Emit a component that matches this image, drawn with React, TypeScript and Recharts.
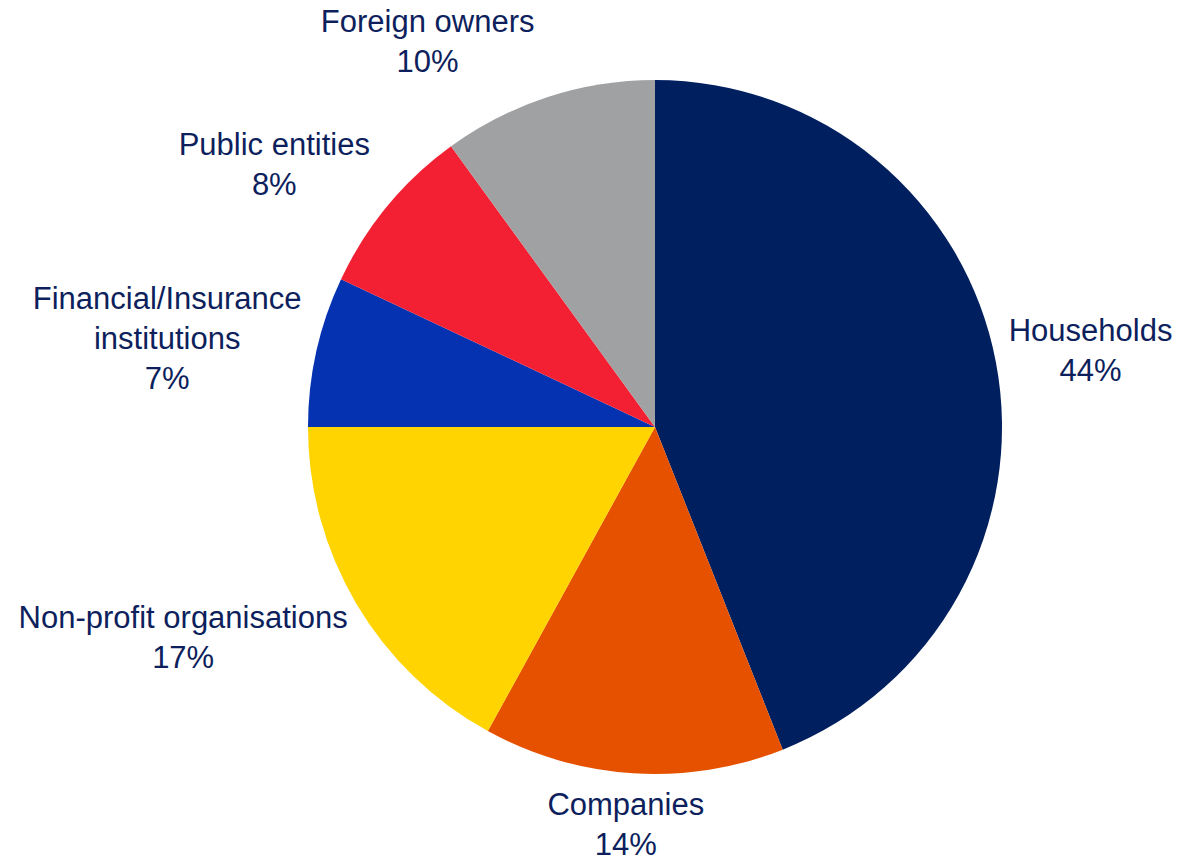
import React from "react";
import { PieChart, Pie, Cell } from "recharts";

const categories = [
  "Households",
  "Companies",
  "Non-profit organisations",
  "Financial/Insurance\ninstitutions",
  "Public entities",
  "Foreign owners",
];
const shares = [44, 14, 17, 7, 8, 10];
const sliceColors = ["#001f5f", "#e65100", "#ffd400", "#0432b0", "#f32033", "#a0a1a3"];

const data = categories.map((name, i) => ({ name, value: shares[i] }));

const TEXT_COLOR = "#0d1f5c";
const FONT = "'Liberation Sans', Arial, sans-serif";
const FONT_SIZE = 31;
const LINE_H = 40;

// small hand tweaks so labels sit where Excel put them
const labelNudge: Record<string, [number, number]> = {
  Households: [3, 0],
  Companies: [8, 1],
  "Foreign owners": [-18, -6],
  "Public entities": [-10, 0],
  "Financial/Insurance\ninstitutions": [-5, 7],
};

let ctx: CanvasRenderingContext2D | null = null;
function textWidth(s: string) {
  if (!ctx) ctx = document.createElement("canvas").getContext("2d");
  if (!ctx) return s.length * 15;
  ctx.font = `${FONT_SIZE}px ${FONT}`;
  return ctx.measureText(s).width;
}

const clamp = (v: number) => Math.max(-1, Math.min(1, v));

function renderLabel(props: any) {
  const { cx, cy, midAngle, outerRadius, name, value, index } = props;
  const rad = (midAngle * Math.PI) / 180;
  const cos = Math.cos(rad);
  const sin = Math.sin(rad);
  const lines = [...String(name).split("\n"), `${value}%`];
  const w = Math.max(...lines.map(textWidth));
  const h = lines.length * LINE_H;
  const px = cx + (outerRadius + 10) * cos;
  const py = cy - (outerRadius + 10) * sin;
  const [nx, ny] = labelNudge[name] || [0, 0];
  const bx = px + (w / 2) * clamp(cos * 3) + nx;
  const by = py - (h / 2) * clamp(sin * 1.4) + ny;
  const firstBase = by - ((lines.length - 1) * LINE_H) / 2 + 11;
  return (
    <text
      key={`lbl-${index}`}
      x={bx}
      y={firstBase}
      textAnchor="middle"
      fill={TEXT_COLOR}
      fontFamily={FONT}
      fontSize={FONT_SIZE}
    >
      {lines.map((l, i) => (
        <tspan key={i} x={bx} dy={i === 0 ? 0 : LINE_H}>
          {l}
        </tspan>
      ))}
    </text>
  );
}

export default function App() {
  return (
    <div style={{ position: "absolute", left: 0, top: 0, width: 1178, height: 862, background: "#fff" }}>
      <PieChart width={1178} height={862} margin={{ top: 0, right: 0, bottom: 0, left: 0 }}>
        <Pie
          data={data}
          dataKey="value"
          nameKey="name"
          cx={655}
          cy={427}
          outerRadius={347}
          startAngle={90}
          endAngle={-270}
          stroke="none"
          labelLine={false}
          label={renderLabel}
          isAnimationActive={false}
        >
          {data.map((d, i) => (
            <Cell key={d.name} fill={sliceColors[i]} />
          ))}
        </Pie>
      </PieChart>
    </div>
  );
}
